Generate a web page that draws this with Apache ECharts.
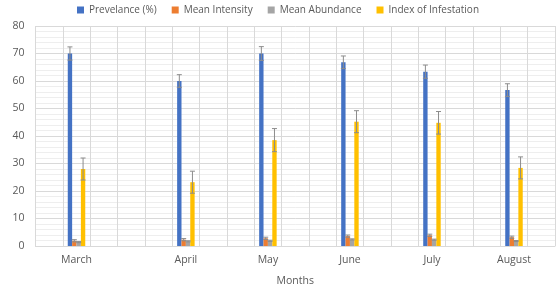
<!DOCTYPE html>
<html>
<head>
<meta charset="utf-8">
<script src="https://cdn.jsdelivr.net/npm/echarts@6/dist/echarts.min.js"></script>
<style>html,body{margin:0;padding:0;background:#fff}#c{width:556px;height:286px}</style>
</head>
<body>
<div id="c"></div>
<script>
// Category slots along the x axis (blank slots as in the source sheet)
var categories = ['', 'March', '', '', '', 'April', '', '', 'May', '', '', 'June', '', '', 'July', '', '', 'August', ''];
var months = ['March', 'April', 'May', 'June', 'July', 'August'];
var seriesNames = ['Prevelance (%)', 'Mean Intensity', 'Mean Abundance', 'Index of Infestation'];
var prevalence = [70, 60, 70, 66.8, 63.4, 56.7];
var prevalenceErr = [2.4, 2.3, 2.5, 2.3, 2.4, 2.3];
var intensity = [1.9, 2.3, 2.8, 3.6, 3.9, 3.2];
var intensityErr = [0.4, 0.4, 0.4, 0.4, 0.4, 0.4];
var abundance = [1.4, 1.7, 1.9, 2.4, 2.3, 1.8];
var abundanceErr = [0.2, 0.2, 0.2, 0.2, 0.2, 0.2];
var infestation = [28, 23.2, 38.5, 45.2, 44.8, 28.4];
var infestationErr = [4, 4, 4.2, 4, 4.1, 4];
var yTicks = [0, 10, 20, 30, 40, 50, 60, 70, 80];

var colors = ['#4472C4', '#ED7D31', '#A5A5A5', '#FFC000'];
var values = [prevalence, intensity, abundance, infestation];
var errors = [prevalenceErr, intensityErr, abundanceErr, infestationErr];
var catGap = 0.36;

function slotData(arr) {
  var out = categories.map(function () { return null; });
  months.forEach(function (m, i) { out[categories.indexOf(m)] = arr[i]; });
  return out;
}

var series = [];
values.forEach(function (v, s) {
  series.push({
    name: seriesNames[s], type: 'bar', data: slotData(v),
    itemStyle: { color: colors[s] }, barGap: '0%', barCategoryGap: (catGap * 100) + '%'
  });
});
values.forEach(function (v, s) {
  var data = months.map(function (m, i) {
    return [categories.indexOf(m), v[i], errors[s][i]];
  });
  series.push({
    type: 'custom', silent: true, z: 5,
    data: data,
    renderItem: function (params, api) {
      var x = api.value(0), val = api.value(1), e = api.value(2);
      var band = api.size([1, 0])[0];
      var bw = band * (1 - catGap) / 4;
      var c = api.coord([x, val]);
      var cx = c[0] + (s - 1.5) * bw;
      var top = api.coord([x, val + e])[1];
      var bot = api.coord([x, val - e])[1];
      var hw = 2.5;
      var st = { stroke: '#8C8C8C', lineWidth: 1 };
      return { type: 'group', children: [
        { type: 'line', shape: { x1: cx, y1: top, x2: cx, y2: bot }, style: st },
        { type: 'line', shape: { x1: cx - hw, y1: top, x2: cx + hw, y2: top }, style: st },
        { type: 'line', shape: { x1: cx - hw, y1: bot, x2: cx + hw, y2: bot }, style: st }
      ]};
    }
  });
});

var font = 'Open Sans, Noto Sans, sans-serif';
var chart = echarts.init(document.getElementById('c'), null, { renderer: 'canvas' });
chart.setOption({
  animation: false,
  textStyle: { fontFamily: font },
  legend: {
    top: 0, left: 'center', itemWidth: 7, itemHeight: 7, itemGap: 15,
    icon: 'rect', data: seriesNames,
    textStyle: { color: '#595959', fontSize: 10, fontFamily: font }
  },
  grid: { left: 35.5, right: 1, top: 26, bottom: 40, containLabel: false, outerBoundsMode: 'none' },
  xAxis: {
    type: 'category', data: categories,
    name: 'Months', nameLocation: 'middle', nameGap: 30,
    nameTextStyle: { color: '#595959', fontSize: 10.5, fontFamily: font },
    axisLine: { show: true, lineStyle: { color: '#D9D9D9' } },
    axisTick: { show: false },
    axisLabel: { interval: 0, color: '#595959', fontSize: 10.5, margin: 9, fontFamily: font },
    splitLine: { show: true, interval: 0, lineStyle: { color: '#D9D9D9', width: 1 } }
  },
  yAxis: {
    type: 'value', min: yTicks[0], max: yTicks[yTicks.length - 1], interval: 10,
    name: 'Values', nameLocation: 'middle', nameGap: 24, nameRotate: 90,
    nameTextStyle: { color: '#595959', fontSize: 10.5, fontFamily: font },
    axisLine: { show: false }, axisTick: { show: false },
    axisLabel: { color: '#595959', fontSize: 10.5, margin: 11, fontFamily: font },
    splitLine: { lineStyle: { color: '#D9D9D9', width: 1 } },
    minorTick: { show: false, splitNumber: 5 },
    minorSplitLine: { show: true, lineStyle: { color: '#EEEEEE', width: 1 } }
  },
  series: series
});
</script>
</body>
</html>
